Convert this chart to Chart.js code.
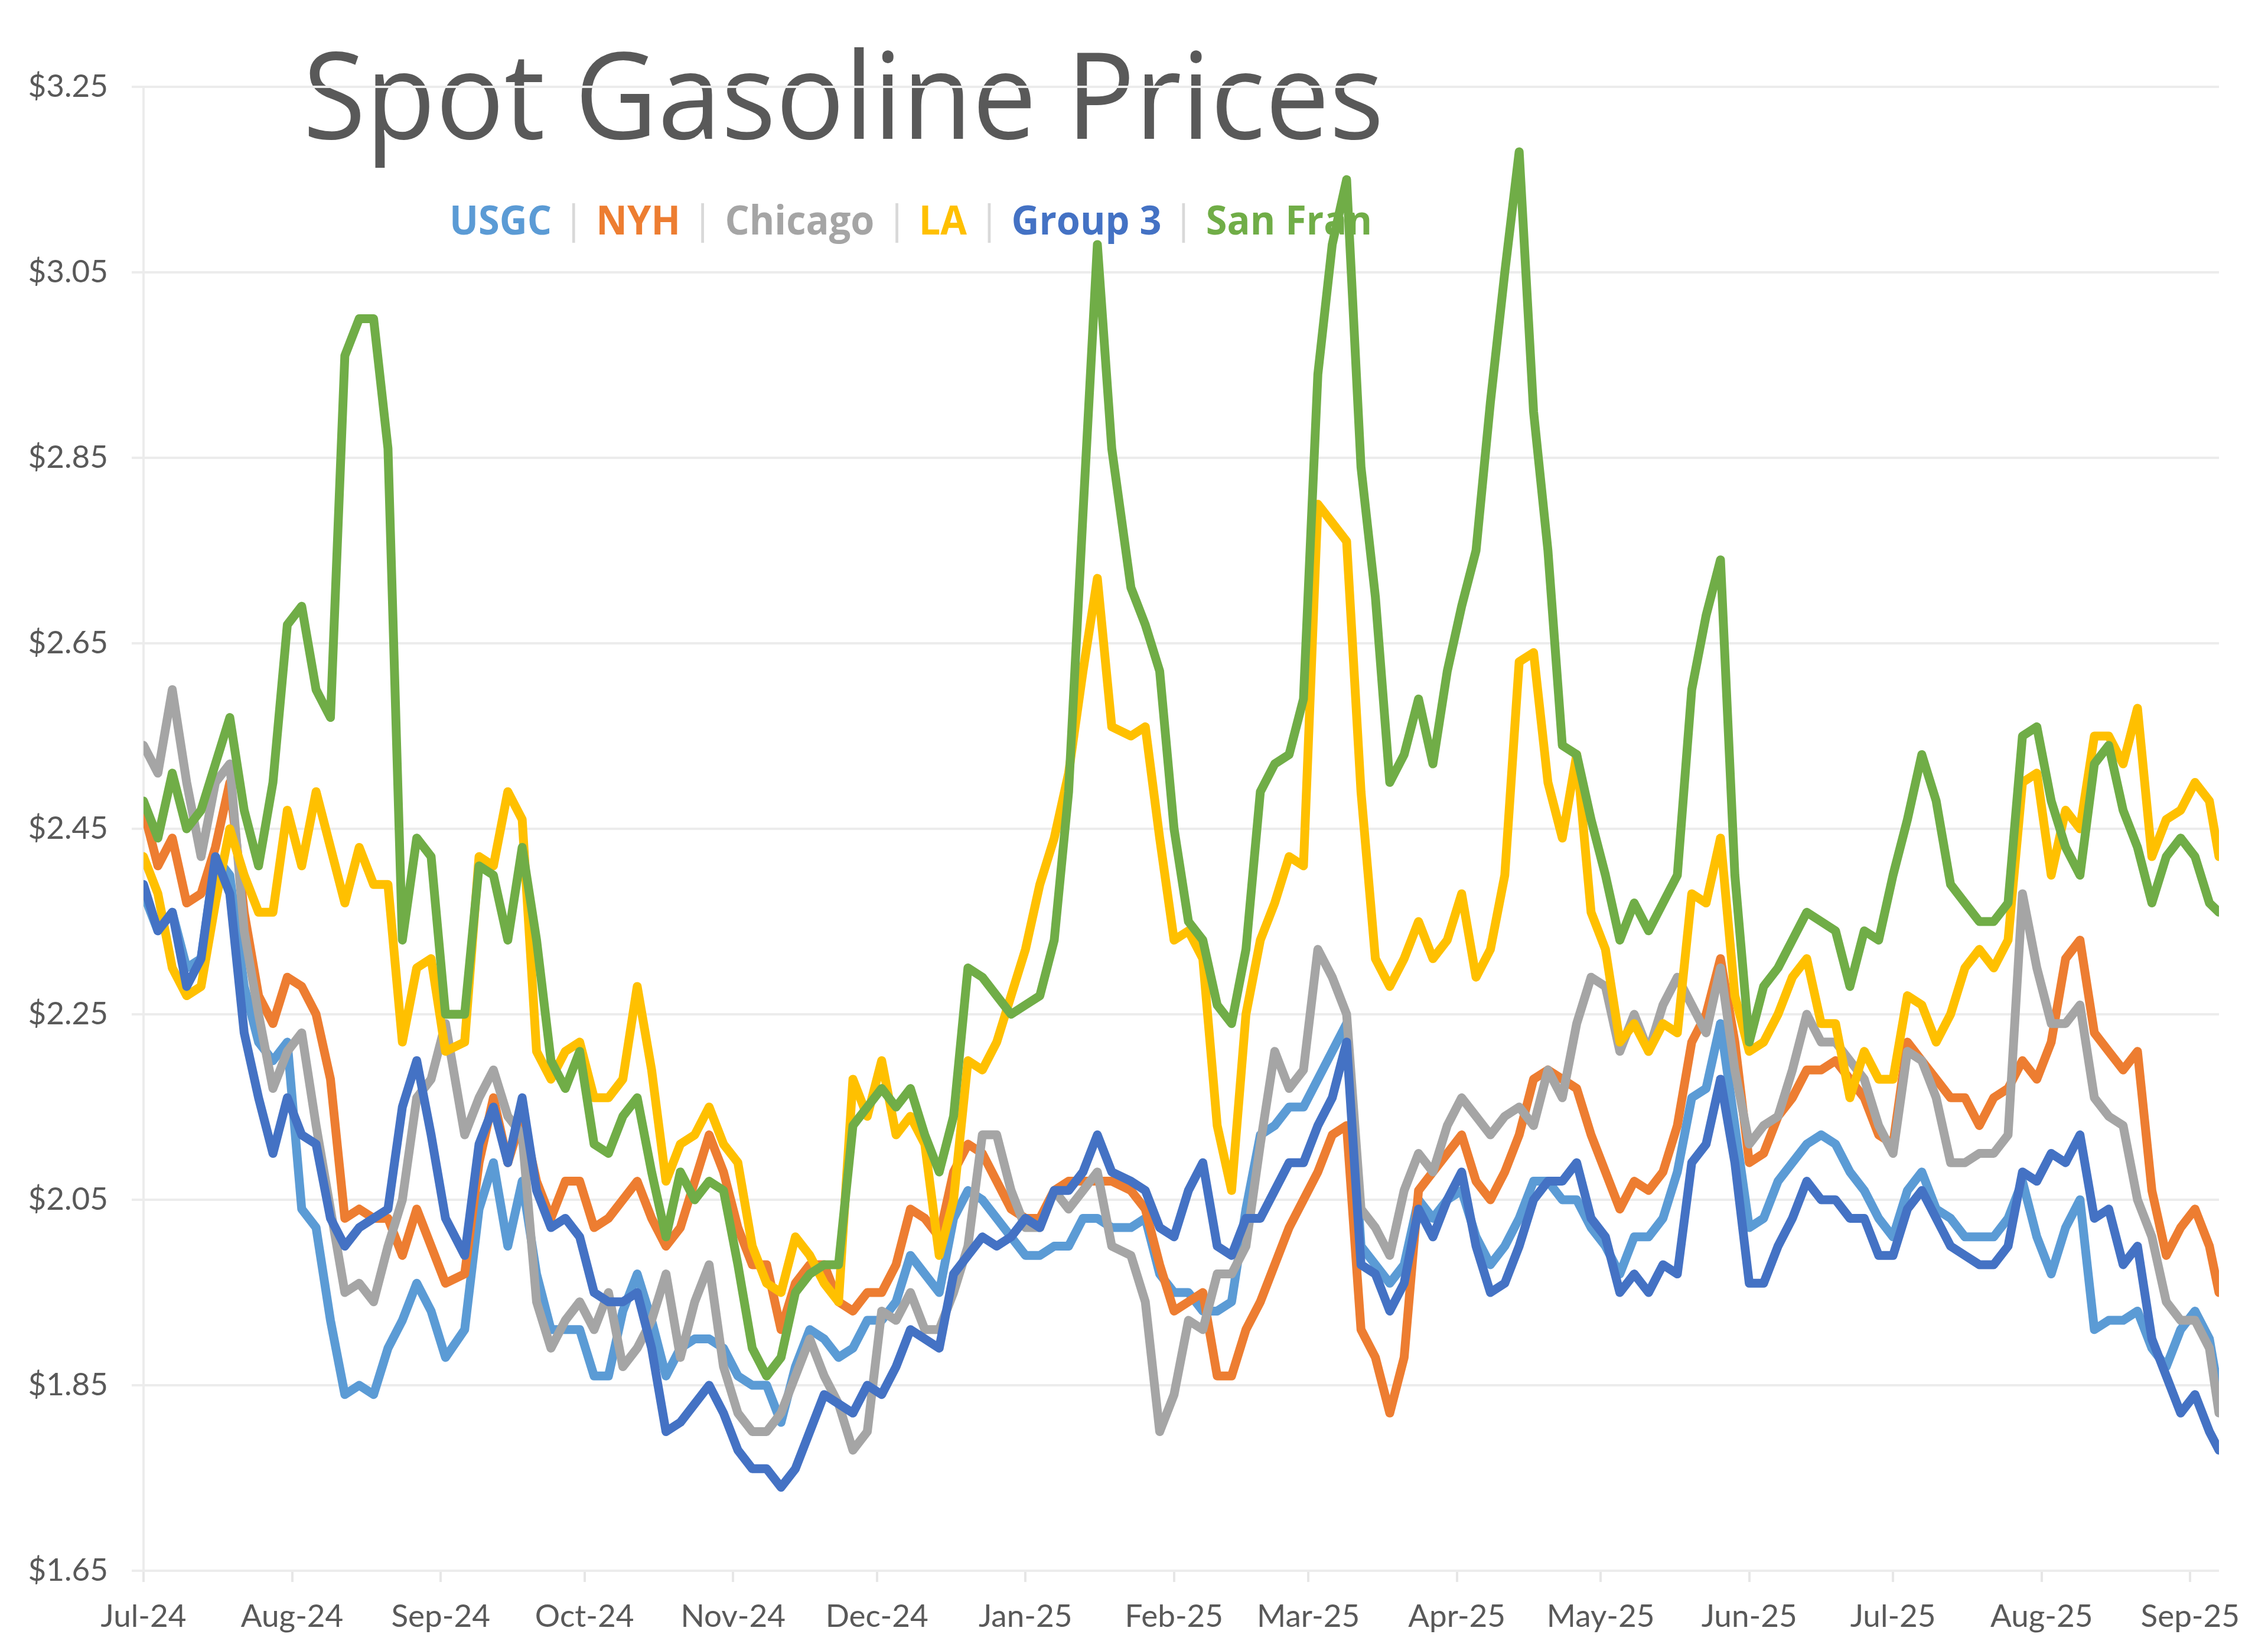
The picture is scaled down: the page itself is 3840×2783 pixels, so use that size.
<!DOCTYPE html>
<html>
<head>
<meta charset="utf-8">
<title>Spot Gasoline Prices</title>
<script src="https://cdn.jsdelivr.net/npm/chart.js@4.4.1/dist/chart.umd.min.js"></script>
<style>
  html, body { margin: 0; padding: 0; background: #fff; }
  #wrap { position: relative; width: 3840px; height: 2783px; overflow: hidden; }
  #title { position: absolute; left: 513px; top: 55px; font-family: 'Open Sans', sans-serif; font-size: 203px; line-height: 203px; color: #595959; white-space: nowrap; transform-origin: 0 0; }
  #legend { position: absolute; left: 761px; top: 337px; display: flex; align-items: center; font-family: 'Open Sans', sans-serif; font-weight: 700; font-size: 68px; line-height: 68px; white-space: nowrap; transform-origin: 0 0; }
  #legend .sep { width: 5px; height: 67px; background: #d9d9d9; margin: 0 37px; position: relative; top: 6px; }
  canvas { position: absolute; left: 0; top: 0; z-index: 1; }
</style>
</head>
<body>
<div id="wrap">
  <div id="title">Spot Gasoline Prices</div>
  <div id="legend"></div>
  <canvas id="chart" width="3840" height="2783"></canvas>
</div>
<script>
// days since 1 Jul 2024
const days = [
  0, 3, 6, 9, 12, 15, 18, 21, 24, 27, 30, 33, 36, 39, 42, 45, 48, 51, 54, 57, 60, 63,
  67, 70, 73, 76, 79, 82, 85, 88, 91, 94, 97, 100, 103, 106, 109, 112, 115, 118, 121, 124, 127, 130, 133, 136,
  139, 142, 145, 148, 151, 154, 157, 160, 163, 166, 169, 172, 175, 178, 181, 184, 187, 190, 193, 196, 199, 202, 206, 209,
  212, 215, 218, 221, 224, 227, 230, 233, 236, 239, 242, 245, 248, 251, 254, 257, 260, 263, 266, 269, 272, 275, 278,
  281, 284, 287, 290, 293, 296, 299, 302, 305, 308, 311, 314, 317, 320, 323, 326, 329, 332, 335, 338, 341, 344, 347, 350,
  353, 356, 359, 362, 365, 368, 371, 374, 377, 380, 383, 386, 389, 392, 395, 398, 401, 404, 407, 410, 413, 416, 419, 422, 425, 428, 431, 433
];

const usgc = [
  2.38, 2.34, 2.36, 2.30, 2.31, 2.42, 2.40, 2.28, 2.22, 2.20, 2.22, 2.04, 2.02, 1.92, 1.84, 1.85, 1.84, 1.89, 1.92, 1.96, 1.93, 1.88,
  1.91, 2.04, 2.09, 2.00, 2.07, 1.97, 1.91, 1.91, 1.91, 1.86, 1.86, 1.93, 1.97, 1.92, 1.86, 1.89, 1.90, 1.90, 1.89, 1.86, 1.85, 1.85, 1.81, 1.87,
  1.91, 1.90, 1.88, 1.89, 1.92, 1.92, 1.94, 1.99, 1.97, 1.95, 2.03, 2.06, 2.05, 2.03, 2.01, 1.99, 1.99, 2.00, 2.00, 2.03, 2.03, 2.02, 2.02, 2.03,
  1.97, 1.95, 1.95, 1.93, 1.93, 1.94, 2.04, 2.12, 2.13, 2.15, 2.15, 2.18, 2.21, 2.24, 2.00, 1.98, 1.96, 1.98, 2.05, 2.03, 2.05, 2.06, 2.01,
  1.98, 2.00, 2.03, 2.07, 2.07, 2.05, 2.05, 2.02, 2.00, 1.97, 2.01, 2.01, 2.03, 2.08, 2.16, 2.17, 2.24, 2.13, 2.02, 2.03, 2.07, 2.09, 2.11, 2.12,
  2.11, 2.08, 2.06, 2.03, 2.01, 2.06, 2.08, 2.04, 2.03, 2.01, 2.01, 2.01, 2.03, 2.07, 2.01, 1.97, 2.02, 2.05, 1.91, 1.92, 1.92, 1.93, 1.89, 1.87, 1.91, 1.93, 1.90, 1.84
];

const nyh = [
  2.47, 2.41, 2.44, 2.37, 2.38, 2.43, 2.50, 2.36, 2.27, 2.24, 2.29, 2.28, 2.25, 2.18, 2.03, 2.04, 2.03, 2.03, 1.99, 2.04, 2.00, 1.96,
  1.97, 2.09, 2.16, 2.09, 2.14, 2.07, 2.03, 2.07, 2.07, 2.02, 2.03, 2.05, 2.07, 2.03, 2.00, 2.02, 2.07, 2.12, 2.08, 2.02, 1.98, 1.98, 1.91, 1.96,
  1.98, 1.98, 1.94, 1.93, 1.95, 1.95, 1.98, 2.04, 2.03, 2.01, 2.08, 2.11, 2.10, 2.07, 2.04, 2.03, 2.03, 2.06, 2.07, 2.07, 2.07, 2.07, 2.06, 2.04,
  1.98, 1.93, 1.94, 1.95, 1.86, 1.86, 1.91, 1.94, 1.98, 2.02, 2.05, 2.08, 2.12, 2.13, 1.91, 1.88, 1.82, 1.88, 2.06, 2.08, 2.10, 2.12, 2.07,
  2.05, 2.08, 2.12, 2.18, 2.19, 2.18, 2.17, 2.12, 2.08, 2.04, 2.07, 2.06, 2.08, 2.13, 2.22, 2.25, 2.31, 2.22, 2.09, 2.10, 2.14, 2.16, 2.19, 2.19,
  2.20, 2.18, 2.16, 2.12, 2.11, 2.22, 2.20, 2.18, 2.16, 2.16, 2.13, 2.16, 2.17, 2.20, 2.18, 2.22, 2.31, 2.33, 2.23, 2.21, 2.19, 2.21, 2.06, 1.99, 2.02, 2.04, 2.00, 1.95
];

const chicago = [
  2.54, 2.51, 2.60, 2.50, 2.42, 2.50, 2.52, 2.34, 2.25, 2.17, 2.21, 2.23, 2.13, 2.04, 1.95, 1.96, 1.94, 2.00, 2.05, 2.16, 2.18, 2.24,
  2.12, 2.16, 2.19, 2.14, 2.12, 1.94, 1.89, 1.92, 1.94, 1.91, 1.95, 1.87, 1.89, 1.92, 1.97, 1.88, 1.94, 1.98, 1.87, 1.82, 1.80, 1.80, 1.82, 1.86,
  1.90, 1.86, 1.83, 1.78, 1.80, 1.93, 1.92, 1.95, 1.91, 1.91, 1.95, 2.00, 2.12, 2.12, 2.06, 2.02, 2.02, 2.06, 2.04, 2.06, 2.08, 2.00, 1.99, 1.94,
  1.80, 1.84, 1.92, 1.91, 1.97, 1.97, 2.00, 2.11, 2.21, 2.17, 2.19, 2.32, 2.29, 2.25, 2.04, 2.02, 1.99, 2.06, 2.10, 2.08, 2.13, 2.16, 2.14,
  2.12, 2.14, 2.15, 2.13, 2.19, 2.16, 2.24, 2.29, 2.28, 2.21, 2.25, 2.21, 2.26, 2.29, 2.26, 2.23, 2.30, 2.19, 2.11, 2.13, 2.14, 2.19, 2.25, 2.22,
  2.22, 2.20, 2.18, 2.13, 2.10, 2.21, 2.20, 2.16, 2.09, 2.09, 2.10, 2.10, 2.12, 2.38, 2.30, 2.24, 2.24, 2.26, 2.16, 2.14, 2.13, 2.05, 2.01, 1.94, 1.92, 1.92, 1.89, 1.82
];

const la = [
  2.42, 2.38, 2.30, 2.27, 2.28, 2.37, 2.45, 2.40, 2.36, 2.36, 2.47, 2.41, 2.49, 2.43, 2.37, 2.43, 2.39, 2.39, 2.22, 2.30, 2.31, 2.21,
  2.22, 2.42, 2.41, 2.49, 2.46, 2.21, 2.18, 2.21, 2.22, 2.16, 2.16, 2.18, 2.28, 2.19, 2.07, 2.11, 2.12, 2.15, 2.11, 2.09, 2.00, 1.96, 1.95, 2.01,
  1.99, 1.96, 1.94, 2.18, 2.14, 2.20, 2.12, 2.14, 2.11, 1.99, 2.05, 2.20, 2.19, 2.22, 2.27, 2.32, 2.39, 2.44, 2.51, 2.62, 2.72, 2.56, 2.55, 2.56,
  2.44, 2.33, 2.34, 2.31, 2.13, 2.06, 2.25, 2.33, 2.37, 2.42, 2.41, 2.80, 2.78, 2.76, 2.49, 2.31, 2.28, 2.31, 2.35, 2.31, 2.33, 2.38, 2.29,
  2.32, 2.40, 2.63, 2.64, 2.50, 2.44, 2.53, 2.36, 2.32, 2.22, 2.24, 2.21, 2.24, 2.23, 2.38, 2.37, 2.44, 2.27, 2.21, 2.22, 2.25, 2.29, 2.31, 2.24,
  2.24, 2.16, 2.21, 2.18, 2.18, 2.27, 2.26, 2.22, 2.25, 2.30, 2.32, 2.30, 2.33, 2.50, 2.51, 2.40, 2.47, 2.45, 2.55, 2.55, 2.52, 2.58, 2.42, 2.46, 2.47, 2.50, 2.48, 2.42
];

const group3 = [
  2.39, 2.34, 2.36, 2.28, 2.31, 2.42, 2.38, 2.23, 2.16, 2.10, 2.16, 2.12, 2.11, 2.03, 2.00, 2.02, 2.03, 2.04, 2.15, 2.20, 2.12, 2.03,
  1.99, 2.11, 2.15, 2.09, 2.16, 2.06, 2.02, 2.03, 2.01, 1.95, 1.94, 1.94, 1.95, 1.89, 1.80, 1.81, 1.83, 1.85, 1.82, 1.78, 1.76, 1.76, 1.74, 1.76,
  1.80, 1.84, 1.83, 1.82, 1.85, 1.84, 1.87, 1.91, 1.90, 1.89, 1.97, 1.99, 2.01, 2.00, 2.01, 2.03, 2.02, 2.06, 2.06, 2.08, 2.12, 2.08, 2.07, 2.06,
  2.02, 2.01, 2.06, 2.09, 2.00, 1.99, 2.03, 2.03, 2.06, 2.09, 2.09, 2.13, 2.16, 2.22, 1.98, 1.97, 1.93, 1.96, 2.04, 2.01, 2.05, 2.08, 2.00,
  1.95, 1.96, 2.00, 2.05, 2.07, 2.07, 2.09, 2.03, 2.01, 1.95, 1.97, 1.95, 1.98, 1.97, 2.09, 2.11, 2.18, 2.09, 1.96, 1.96, 2.00, 2.03, 2.07, 2.05,
  2.05, 2.03, 2.03, 1.99, 1.99, 2.04, 2.06, 2.03, 2.00, 1.99, 1.98, 1.98, 2.00, 2.08, 2.07, 2.10, 2.09, 2.12, 2.03, 2.04, 1.98, 2.00, 1.90, 1.86, 1.82, 1.84, 1.80, 1.78
];

const sanFran = [
  2.48, 2.44, 2.51, 2.45, 2.47, 2.52, 2.57, 2.47, 2.41, 2.50, 2.67, 2.69, 2.60, 2.57, 2.96, 3.00, 3.00, 2.86, 2.33, 2.44, 2.42, 2.25,
  2.25, 2.41, 2.40, 2.33, 2.43, 2.33, 2.20, 2.17, 2.21, 2.11, 2.10, 2.14, 2.16, 2.08, 2.01, 2.08, 2.05, 2.07, 2.06, 1.98, 1.89, 1.86, 1.88, 1.95,
  1.97, 1.98, 1.98, 2.13, 2.15, 2.17, 2.15, 2.17, 2.12, 2.08, 2.14, 2.30, 2.29, 2.27, 2.25, 2.26, 2.27, 2.33, 2.49, 2.79, 3.08, 2.86, 2.71, 2.67,
  2.62, 2.45, 2.35, 2.33, 2.26, 2.24, 2.32, 2.49, 2.52, 2.53, 2.59, 2.94, 3.08, 3.15, 2.84, 2.70, 2.50, 2.53, 2.59, 2.52, 2.62, 2.69, 2.75,
  2.91, 3.05, 3.18, 2.90, 2.75, 2.54, 2.53, 2.46, 2.40, 2.33, 2.37, 2.34, 2.37, 2.40, 2.60, 2.68, 2.74, 2.40, 2.22, 2.28, 2.30, 2.33, 2.36, 2.35,
  2.34, 2.28, 2.34, 2.33, 2.40, 2.46, 2.53, 2.48, 2.39, 2.37, 2.35, 2.35, 2.37, 2.55, 2.56, 2.48, 2.43, 2.40, 2.52, 2.54, 2.47, 2.43, 2.37, 2.42, 2.44, 2.42, 2.37, 2.36
];

const seriesNames = ['USGC', 'NYH', 'Chicago', 'LA', 'Group 3', 'San Fran'];
const seriesData = [usgc, nyh, chicago, la, group3, sanFran];
const seriesColors = ['#5B9BD5', '#ED7D31', '#A5A5A5', '#FFC000', '#4472C4', '#70AD47'];

// x tick labels at month starts
const monthStarts = [0, 31, 62, 92, 123, 153, 184, 215, 243, 274, 304, 335, 365, 396, 427];
const monthLabels = ['Jul-24', 'Aug-24', 'Sep-24', 'Oct-24', 'Nov-24', 'Dec-24', 'Jan-25', 'Feb-25',
  'Mar-25', 'Apr-25', 'May-25', 'Jun-25', 'Jul-25', 'Aug-25', 'Sep-25'];
const yTicks = [1.65, 1.85, 2.05, 2.25, 2.45, 2.65, 2.85, 3.05, 3.25];

// legend text with separators
const legend = document.getElementById('legend');
seriesNames.forEach((name, i) => {
  if (i > 0) {
    const s = document.createElement('span');
    s.className = 'sep';
    legend.appendChild(s);
  }
  const t = document.createElement('span');
  t.textContent = name;
  t.style.color = seriesColors[i];
  legend.appendChild(t);
});

function fitWidth(el, target) {
  const w = el.getBoundingClientRect().width;
  el.style.transform = 'scaleX(' + (target / w) + ')';
}
fitWidth(document.getElementById('title'), 1830);
fitWidth(legend, 1562);

const labelFont = { family: 'Lato', size: 53 };

new Chart(document.getElementById('chart'), {
  type: 'line',
  data: {
    datasets: seriesNames.map((name, i) => ({
      label: name,
      data: days.map((d, j) => ({ x: d, y: seriesData[i][j] })),
      borderColor: seriesColors[i],
      backgroundColor: seriesColors[i],
      borderWidth: 15,
      pointRadius: 0,
      tension: 0,
      borderJoinStyle: 'round',
      borderCapStyle: 'round',
      fill: false,
      order: seriesNames.length - i
    }))
  },
  options: {
    responsive: false,
    devicePixelRatio: 1,
    animation: false,
    layout: { padding: { left: 0, right: 83, top: 147, bottom: 0 } },
    plugins: {
      legend: { display: false },
      title: { display: false },
      tooltip: { enabled: false }
    },
    scales: {
      x: {
        type: 'linear',
        min: 0,
        max: 433,
        afterBuildTicks: axis => { axis.ticks = monthStarts.map(v => ({ value: v })); },
        afterFit: axis => { axis.height = 124; },
        ticks: {
          autoSkip: false,
          maxRotation: 0,
          minRotation: 0,
          padding: 27,
          color: '#595959',
          font: labelFont,
          callback: v => monthLabels[monthStarts.indexOf(v)]
        },
        grid: { drawOnChartArea: false, drawTicks: true, tickLength: 19, color: '#e6e6e6', lineWidth: 4 },
        border: { display: false }
      },
      y: {
        min: 1.65,
        max: 3.25,
        afterBuildTicks: axis => { axis.ticks = yTicks.map(v => ({ value: v })); },
        afterFit: axis => { axis.width = 243; },
        ticks: {
          padding: 40,
          color: '#595959',
          font: labelFont,
          callback: v => '$' + v.toFixed(2)
        },
        grid: { color: '#ececec', lineWidth: 4, drawTicks: true, tickLength: 20 },
        border: { display: true, color: '#ececec', width: 4 }
      }
    }
  }
});
</script>
</body>
</html>
